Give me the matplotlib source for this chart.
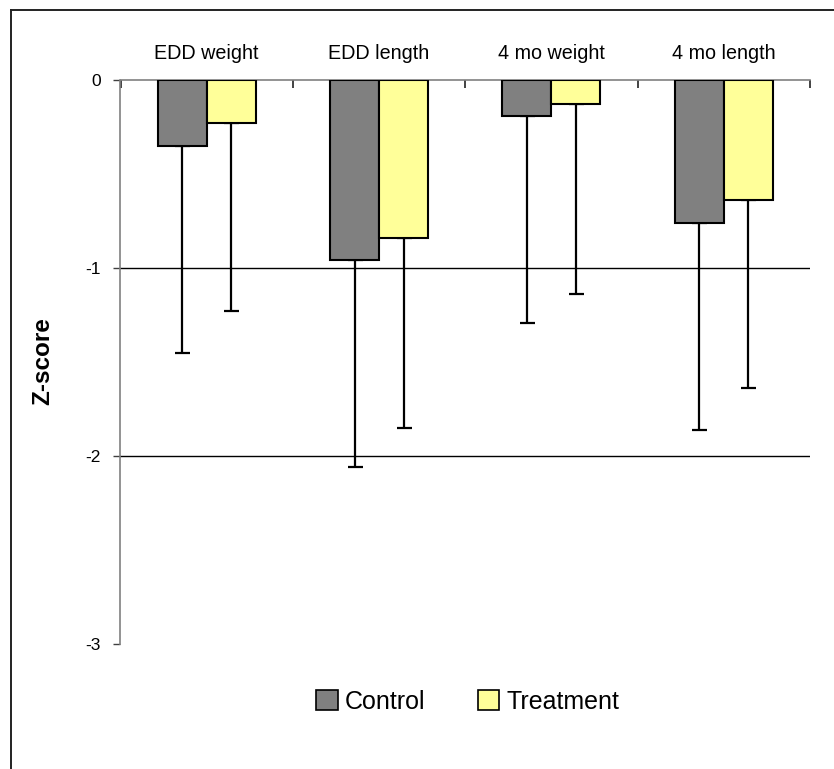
import matplotlib
matplotlib.use("Agg")
import matplotlib.pyplot as plt
from matplotlib.patches import Patch
from matplotlib.lines import Line2D

# data
categories = ["EDD weight", "EDD length", "4 mo weight", "4 mo length"]
control_mean = [-0.35, -0.96, -0.19, -0.76]
treatment_mean = [-0.23, -0.84, -0.13, -0.64]
control_sd = [1.10, 1.10, 1.10, 1.10]
treatment_sd = [1.00, 1.01, 1.01, 1.00]
yticks = [0, -1, -2, -3]

face = "Liberation Sans"

fig = plt.figure(figsize=(8.34, 7.69), dpi=100)
W, H = 834, 769
ax = fig.add_axes([120.5 / W, 1 - 644 / H, (810 - 120.5) / W, (644 - 80) / H])

x = range(len(categories))
width = 0.284
xc = [i - width / 2 for i in x]
xt = [i + width / 2 for i in x]

ax.bar(xc, control_mean, width, color="#808080", edgecolor="black", linewidth=1.5, zorder=3)
ax.bar(xt, treatment_mean, width, color="#ffff99", edgecolor="black", linewidth=1.5, zorder=3)
ax.errorbar(xc, control_mean, yerr=[control_sd, [0] * 4], fmt="none", ecolor="black",
            elinewidth=1.6, capsize=5.4, capthick=1.6, zorder=2)
ax.errorbar(xt, treatment_mean, yerr=[treatment_sd, [0] * 4], fmt="none", ecolor="black",
            elinewidth=1.6, capsize=5.4, capthick=1.6, zorder=2)

# grid lines only at the inner ticks
for t in yticks[1:-1]:
    ax.axhline(t, color="black", linewidth=1, zorder=1)

ax.set_xlim(-0.5, 3.5)
ax.set_ylim(-3, 0)

# category axis sits on top at zero
ax.xaxis.tick_top()
ax.set_xticks(list(x))
ax.set_xticklabels(categories, fontsize=14.2, family=face)
ax.set_xticks([i - 0.5 for i in range(len(categories) + 1)], minor=True)
ax.tick_params(axis="x", which="major", length=0, pad=12)
ax.tick_params(axis="x", which="minor", direction="in", length=6, width=1.2, color="#222222")

ax.set_yticks(yticks)
ax.set_yticklabels([str(t) for t in yticks], fontsize=12.5, family=face)
ax.tick_params(axis="y", direction="out", length=5, width=1, color="#404040", pad=9)

for s in ["right", "bottom"]:
    ax.spines[s].set_visible(False)
for s in ["top", "left"]:
    ax.spines[s].set_color("#808080")
    ax.spines[s].set_linewidth(1.2)

fig.text(43 / W, 1 - 361 / H, "Z-score", rotation=90, ha="center", va="center",
         fontsize=17.5, fontweight="bold", family=face)

handles = [Patch(facecolor="#808080", edgecolor="black", linewidth=1.2),
           Patch(facecolor="#ffff99", edgecolor="black", linewidth=1.2)]
fig.legend(handles, ["Control", "Treatment"], loc="center", ncol=2, frameon=False,
           bbox_to_anchor=(468 / W, 1 - 702 / H),
           prop={"family": face, "size": 18},
           handlelength=0.85, handleheight=0.85, handletextpad=0.3, columnspacing=2.1)

# outer frame (only top and left edges show)
fig.add_artist(Line2D([11 / W, 11 / W], [0, 1 - 10 / H], color="#222222", linewidth=1.4))
fig.add_artist(Line2D([11 / W, 1], [1 - 10 / H, 1 - 10 / H], color="#222222", linewidth=1.4))

fig.savefig("out.png", dpi=100)
